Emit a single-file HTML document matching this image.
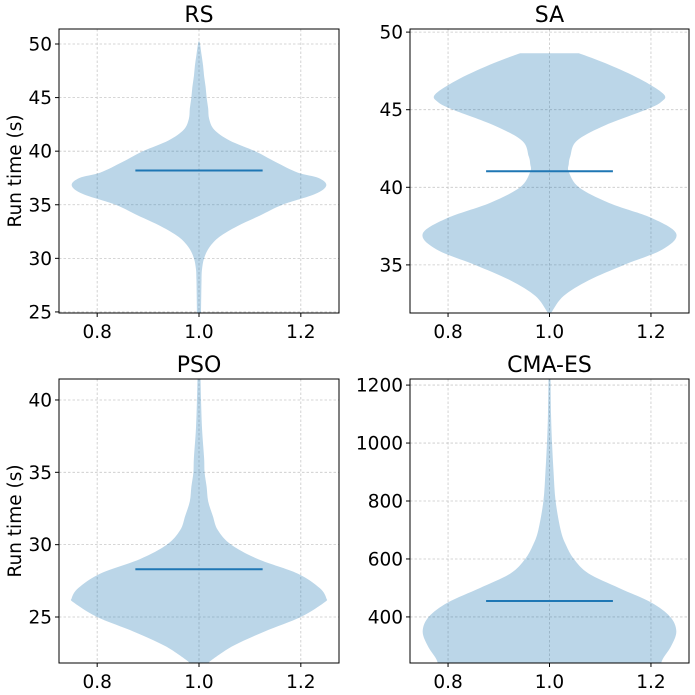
<!DOCTYPE html>
<html><head><meta charset="utf-8"><style>
body{margin:0;background:#fff}
svg{display:block;font-family:"DejaVu Sans","Liberation Sans",sans-serif}
</style></head><body>
<svg id="chart" width="695" height="695" viewBox="0 0 695 695" xmlns="http://www.w3.org/2000/svg"></svg>
<script>
// RS
const rsY = [24.9,25,28,29,30,31,32,33,34,35,36,36.8,37.5,38,39,40,41,42,43,44,45,46,47,48,49,50,50.3];
const rsW = [0.004,0.004,0.005,0.006,0.01,0.02,0.04,0.075,0.12,0.164,0.228,0.25,0.235,0.194,0.15,0.11,0.06,0.03,0.02,0.018,0.015,0.013,0.01,0.008,0.005,0.002,0];
const rsMean = 38.2;
// SA
const saY = [31.9,32,33,34,35,36,37,38,39,40,41,41.5,42,43,44,45,45.5,46,47,48,48.64];
const saW = [0.003,0.005,0.028,0.077,0.147,0.223,0.25,0.203,0.117,0.058,0.038,0.038,0.041,0.054,0.11,0.19,0.22,0.225,0.177,0.11,0.058];
const saMean = 41.03;
// PSO
const psoY = [21.82,22,23,24,25,26,26.3,27,28,29,30,31,32,33,34,35,36,38,40,41.45];
const psoW = [0.02,0.024,0.067,0.129,0.2,0.246,0.25,0.237,0.194,0.116,0.063,0.037,0.027,0.018,0.015,0.011,0.01,0.006,0.004,0.003];
const psoMean = 28.3;
// CMA-ES
const cmaY = [241,260,300,350,400,450,500,550,600,650,700,800,900,1000,1100,1221];
const cmaW = [0.22,0.225,0.24,0.25,0.238,0.2,0.137,0.077,0.048,0.032,0.022,0.012,0.008,0.005,0.003,0.002];
const cmaMean = 455;

const xTicks = [0.8,1.0,1.2];
const xTickLabels = ["0.8","1.0","1.2"];

const panels = [
 {name:"RS",key:"rs",Y:rsY,W:rsW,mean:rsMean,ymin:24.9,ymax:51.4,ticks:[25,30,35,40,45,50],L:59,R:339,T:29,B:313,ylabel:true},
 {name:"SA",key:"sa",Y:saY,W:saW,mean:saMean,ymin:31.9,ymax:50.2,ticks:[35,40,45,50],L:410,R:689,T:29,B:313,ylabel:false},
 {name:"PSO",key:"pso",Y:psoY,W:psoW,mean:psoMean,ymin:21.82,ymax:41.45,ticks:[25,30,35,40],L:59,R:339,T:379,B:663,ylabel:true},
 {name:"CMA-ES",key:"cma-es",Y:cmaY,W:cmaW,mean:cmaMean,ymin:241,ymax:1221,ticks:[400,600,800,1000,1200],L:410,R:689,T:379,B:663,ylabel:false}
];
const svg = document.getElementById('chart');
const NS = "http://www.w3.org/2000/svg";
function mk(tag, attrs, parent){const e=document.createElementNS(NS,tag);for(const k in attrs)e.setAttribute(k,attrs[k]);parent.appendChild(e);return e;}
function smooth(pts, first){
  let d = first ? 'M'+pts[0][0]+','+pts[0][1] : 'L'+pts[0][0]+','+pts[0][1];
  for(let i=0;i<pts.length-1;i++){
    const p0=pts[Math.max(0,i-1)],p1=pts[i],p2=pts[i+1],p3=pts[Math.min(pts.length-1,i+2)];
    const c1x=p1[0]+(p2[0]-p0[0])/6,c1y=p1[1]+(p2[1]-p0[1])/6;
    const c2x=p2[0]-(p3[0]-p1[0])/6,c2y=p2[1]-(p3[1]-p1[1])/6;
    d+='C'+c1x+','+c1y+' '+c2x+','+c2y+' '+p2[0]+','+p2[1];
  }
  return d;
}

panels.forEach(p=>{
  const g = mk('g',{},svg);
  
  
  const xs = v => p.L + (v-0.725)/(1.275-0.725)*(p.R-p.L);
  const ys = v => p.B - (v-p.ymin)/(p.ymax-p.ymin)*(p.B-p.T);
  xTicks.forEach(t=>{
    const l = mk('line',{x1:xs(t),x2:xs(t),y1:p.T,y2:p.B,stroke:'#b0b0b0','stroke-width':0.8,'stroke-dasharray':'2.5,2','stroke-opacity':0.7},g);
    
    
  });
  p.ticks.forEach(t=>{
    const l = mk('line',{x1:p.L,x2:p.R,y1:ys(t),y2:ys(t),stroke:'#b0b0b0','stroke-width':0.8,'stroke-dasharray':'2.5,2','stroke-opacity':0.7},g);
    
    
  });
  const right = p.Y.map((y,i)=>[xs(1+p.W[i]),ys(y)]);
  const left = p.Y.map((y,i)=>[xs(1-p.W[i]),ys(y)]).reverse();
  const d = smooth(right,true)+smooth(left,false)+'Z';
  const cp = mk('clipPath',{id:'clip-'+p.key},g);
  mk('rect',{x:p.L,y:p.T,width:p.R-p.L,height:p.B-p.T},cp);
  const v = mk('path',{d:d,fill:'#1f77b4','fill-opacity':0.3,'clip-path':'url(#clip-'+p.key+')'},g);
  
  
  const m = mk('line',{x1:xs(0.875),x2:xs(1.125),y1:ys(p.mean),y2:ys(p.mean),stroke:'#1f77b4','stroke-width':2},g);
  
  
  const f = mk('rect',{x:p.L,y:p.T,width:p.R-p.L,height:p.B-p.T,fill:'none',stroke:'#000','stroke-width':1},g);
  
  
  xTicks.forEach((t,i)=>{
    mk('line',{x1:xs(t),x2:xs(t),y1:p.B,y2:p.B+4,stroke:'#000'},g);
    const tx = mk('text',{x:xs(t),y:p.B+25,'text-anchor':'middle','font-size':18.5,fill:'#000'},g);
    tx.textContent = xTickLabels[i];
    
    
  });
  p.ticks.forEach(t=>{
    mk('line',{x1:p.L-4,x2:p.L,y1:ys(t),y2:ys(t),stroke:'#000'},g);
    const tx = mk('text',{x:p.L-7,y:ys(t)+6.5,'text-anchor':'end','font-size':18.5,fill:'#000'},g);
    tx.textContent = String(t);
    
    
  });
  const ti = mk('text',{x:(p.L+p.R)/2,y:p.T-7,'text-anchor':'middle','font-size':22,fill:'#000'},g);
  ti.textContent = p.name;
  
  
  if(p.ylabel){
    const cy=(p.T+p.B)/2;
    const yl = mk('text',{x:21,y:cy,'text-anchor':'middle','font-size':18.5,fill:'#000',transform:'rotate(-90 21 '+cy+')'},g);
    yl.textContent='Run time (s)';
    
    
  }
});
</script>
</body></html>
